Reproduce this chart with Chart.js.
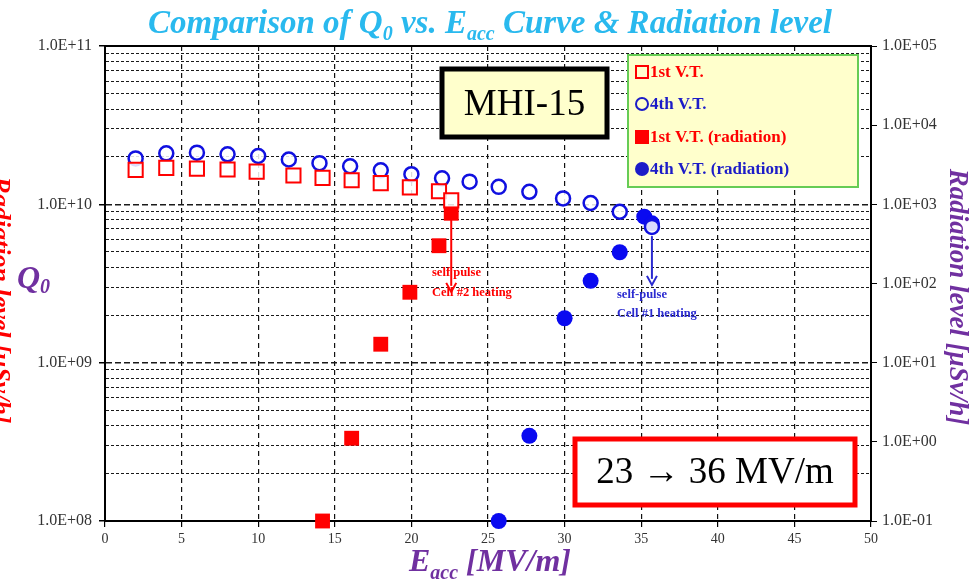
<!DOCTYPE html>
<html>
<head>
<meta charset="utf-8">
<script src="https://cdn.jsdelivr.net/npm/chart.js@4.4.1/dist/chart.umd.min.js"></script>
<style>
  html, body { margin: 0; padding: 0; background: #fff; }
  canvas { display: block; }
</style>
</head>
<body>
<canvas id="q0Chart" width="978" height="582"></canvas>
<script>
// --- datos ---
const eacc1st = [2, 4, 6, 8, 9.9, 12.3, 14.2, 16.1, 18, 19.9, 21.8, 22.6];
const q0First = [1.65e10, 1.70e10, 1.68e10, 1.66e10, 1.61e10, 1.52e10, 1.47e10, 1.42e10, 1.36e10, 1.28e10, 1.21e10, 1.06e10];

const eacc4th = [2, 4, 6, 8, 10, 12, 14, 16, 18, 20, 22, 23.8, 25.7, 27.7, 29.9, 31.7, 33.6, 35.7];
const q0Fourth = [1.95e10, 2.10e10, 2.12e10, 2.07e10, 2.02e10, 1.92e10, 1.82e10, 1.74e10, 1.64e10, 1.55e10, 1.46e10, 1.39e10, 1.29e10, 1.20e10, 1.09e10, 1.02e10, 8.98e9, 7.2e9];

const eaccRad1st = [14.2, 16.1, 18, 19.9, 21.8, 22.6];
const radFirst = [0.1, 1.11, 17.1, 77.5, 300, 771];

const eaccRad4th = [25.7, 27.7, 30, 31.7, 33.6, 35.2, 35.7];
const radFourth = [0.1, 1.19, 36.4, 108, 248, 698, 576];

const xTicks = [0, 5, 10, 15, 20, 25, 30, 35, 40, 45, 50];
const q0Decades = [1e8, 1e9, 1e10, 1e11];
const radDecades = [0.1, 1, 10, 100, 1000, 1e4, 1e5];

const seriesNames = ['1st V.T.', '4th V.T.', '1st V.T. (radiation)', '4th V.T. (radiation)'];

// flechas de anotación (Eacc, Q0 desde, Q0 hasta)
const redArrow = { x: 22.6, from: 9.0e9, to: 2.8e9 };
const blueArrow = { x: 35.7, from: 6.3e9, to: 3.1e9 };

const RED = '#ff0000';
const BLUE = '#0000ee';
const PURPLE = '#7030a0';
const SERIF = "'Liberation Serif', 'Times New Roman', serif";

const toPoints = (xs, ys) => xs.map((x, i) => ({ x, y: ys[i] }));

function expLabel(v) {
  const e = Math.round(Math.log10(v));
  const sign = e < 0 ? '-' : '+';
  return '1.0E' + sign + String(Math.abs(e)).padStart(2, '0');
}
const isDecade = v => Math.abs(Math.log10(v) - Math.round(Math.log10(v))) < 1e-9;

// ticks 1..9 x 10^n para la rejilla del eje izquierdo
const q0Ticks = [];
q0Decades.slice(0, -1).forEach(d => { for (let k = 1; k < 10; k++) q0Ticks.push(d * k); });
q0Ticks.push(q0Decades[q0Decades.length - 1]);

// texto con subíndices
function drawRich(ctx, parts, x, y, align) {
  let w = 0;
  parts.forEach(p => { ctx.font = p.font; w += ctx.measureText(p.t).width; });
  let cx = align === 'center' ? x - w / 2 : x;
  ctx.textAlign = 'left';
  parts.forEach(p => {
    ctx.font = p.font;
    ctx.fillText(p.t, cx, y + (p.dy || 0));
    cx += ctx.measureText(p.t).width;
  });
}

function arrow(ctx, x, y1, y2, color) {
  ctx.save();
  ctx.strokeStyle = color;
  ctx.fillStyle = color;
  ctx.lineWidth = 2;
  ctx.beginPath();
  ctx.moveTo(x, y1);
  ctx.lineTo(x, y2 - 6);
  ctx.stroke();
  ctx.beginPath();
  ctx.moveTo(x - 5, y2 - 9);
  ctx.lineTo(x, y2);
  ctx.lineTo(x + 5, y2 - 9);
  ctx.stroke();
  ctx.restore();
}

const decorPlugin = {
  id: 'decor',
  afterDraw(chart) {
    const { ctx, chartArea: a, scales } = chart;
    ctx.save();

    // marco superior
    ctx.strokeStyle = '#000';
    ctx.lineWidth = 2;
    ctx.beginPath();
    ctx.moveTo(a.left, a.top);
    ctx.lineTo(a.right, a.top);
    ctx.stroke();

    // título
    ctx.fillStyle = '#29b9ee';
    ctx.textBaseline = 'alphabetic';
    const big = `italic bold 33px ${SERIF}`;
    const sub = `italic bold 20px ${SERIF}`;
    drawRich(ctx, [
      { t: 'Comparison of Q', font: big },
      { t: '0', font: sub, dy: 7 },
      { t: ' vs. E', font: big },
      { t: 'acc', font: sub, dy: 7 },
      { t: ' Curve & Radiation level', font: big }
    ], 490, 33, 'center');

    // título eje x
    ctx.fillStyle = PURPLE;
    drawRich(ctx, [
      { t: 'E', font: `italic bold 32px ${SERIF}` },
      { t: 'acc', font: `italic bold 20px ${SERIF}`, dy: 8 },
      { t: ' [MV/m]', font: `italic bold 32px ${SERIF}` }
    ], 490, 571, 'center');

    // Q0 a la izquierda
    drawRich(ctx, [
      { t: 'Q', font: `italic bold 32px ${SERIF}` },
      { t: '0', font: `italic bold 20px ${SERIF}`, dy: 5 }
    ], 17, 288, 'left');

    // eje derecho
    ctx.save();
    ctx.translate(950, 297);
    ctx.rotate(Math.PI / 2);
    ctx.font = `italic bold 27px ${SERIF}`;
    ctx.textAlign = 'center';
    ctx.textBaseline = 'alphabetic';
    ctx.fillStyle = PURPLE;
    ctx.fillText('Radiation level [\u03bcSv/h]', 0, 0);
    ctx.restore();

    // título rojo recortado a la izquierda
    ctx.save();
    ctx.translate(-7, 300);
    ctx.rotate(Math.PI / 2);
    ctx.font = `italic bold 26px ${SERIF}`;
    ctx.textAlign = 'center';
    ctx.fillStyle = RED;
    ctx.fillText('Radiation level [\u03bcSv/h]', 0, 0);
    ctx.restore();

    // flechas y notas
    const xs = scales.x, ys = scales.y;
    const rx = xs.getPixelForValue(redArrow.x);
    arrow(ctx, rx, ys.getPixelForValue(redArrow.from), ys.getPixelForValue(redArrow.to), RED);
    const bx = xs.getPixelForValue(blueArrow.x);
    arrow(ctx, bx, ys.getPixelForValue(blueArrow.from), ys.getPixelForValue(blueArrow.to), '#2a2ad0');

    ctx.font = `bold 12.5px ${SERIF}`;
    ctx.textAlign = 'left';
    ctx.fillStyle = RED;
    ctx.fillText('self pulse', 432, 276);
    ctx.fillText('Cell #2 heating', 432, 296);
    ctx.fillStyle = '#2a2ad0';
    ctx.fillText('self-pulse', 617, 298);
    ctx.fillText('Cell #1 heating', 617, 317);

    // caja MHI-15
    ctx.fillStyle = '#ffffcc';
    ctx.fillRect(442, 69, 165, 68);
    ctx.lineWidth = 5;
    ctx.strokeStyle = '#000';
    ctx.strokeRect(442, 69, 165, 68);
    ctx.fillStyle = '#000';
    ctx.font = `37px ${SERIF}`;
    ctx.textAlign = 'center';
    ctx.textBaseline = 'middle';
    ctx.fillText('MHI-15', 524.5, 105);

    // caja 23 -> 36 MV/m
    ctx.fillStyle = '#fff';
    ctx.fillRect(575, 439, 280, 66);
    ctx.strokeStyle = RED;
    ctx.lineWidth = 5;
    ctx.strokeRect(575, 439, 280, 66);
    ctx.fillStyle = '#000';
    ctx.font = `37px ${SERIF}`;
    ctx.fillText('23 \u2192 36 MV/m', 715, 473);

    // leyenda
    ctx.fillStyle = '#ffffcc';
    ctx.fillRect(628, 55, 230, 132);
    ctx.strokeStyle = '#66cc55';
    ctx.lineWidth = 2;
    ctx.strokeRect(628, 55, 230, 132);
    const rows = [
      { name: seriesNames[0], color: RED, shape: 'sq', fill: false, y: 72 },
      { name: seriesNames[1], color: '#1c1cc8', shape: 'ci', fill: false, y: 104 },
      { name: seriesNames[2], color: RED, shape: 'sq', fill: true, y: 137 },
      { name: seriesNames[3], color: '#1c1cc8', shape: 'ci', fill: true, y: 169 }
    ];
    rows.forEach(r => {
      ctx.strokeStyle = r.color;
      ctx.fillStyle = r.color;
      ctx.lineWidth = 2;
      if (r.shape === 'sq') {
        if (r.fill) ctx.fillRect(635, r.y - 7, 14, 14);
        else ctx.strokeRect(636, r.y - 6, 12, 12);
      } else {
        ctx.beginPath();
        ctx.arc(642, r.y, r.fill ? 7 : 6, 0, Math.PI * 2);
        if (r.fill) ctx.fill(); else ctx.stroke();
      }
      ctx.font = `bold 17px ${SERIF}`;
      ctx.textAlign = 'left';
      ctx.textBaseline = 'middle';
      ctx.fillText(r.name, 650, r.y + 1);
    });

    ctx.restore();
  }
};

new Chart(document.getElementById('q0Chart').getContext('2d'), {
  type: 'scatter',
  data: {
    datasets: [
      { label: seriesNames[0], data: toPoints(eacc1st, q0First), yAxisID: 'y', pointStyle: 'rect', pointRadius: 10, pointBorderWidth: 2, borderColor: RED, backgroundColor: 'rgba(255,255,255,0.85)', clip: false },
      { label: seriesNames[1], data: toPoints(eacc4th, q0Fourth), yAxisID: 'y', pointStyle: 'circle', pointRadius: 7, pointBorderWidth: 2.5, borderColor: '#1010e0', backgroundColor: 'rgba(255,255,255,0.85)', clip: false },
      { label: seriesNames[2], data: toPoints(eaccRad1st, radFirst), yAxisID: 'y2', pointStyle: 'rect', pointRadius: 10.5, pointBorderWidth: 0, borderColor: RED, backgroundColor: RED, clip: false },
      { label: seriesNames[3], data: toPoints(eaccRad4th, radFourth), yAxisID: 'y2', pointStyle: 'circle', pointRadius: 8, pointBorderWidth: 0, borderColor: '#0a0af0', backgroundColor: '#0a0af0', clip: false }
    ]
  },
  options: {
    responsive: false,
    devicePixelRatio: 1,
    animation: false,
    layout: { padding: { top: 46, left: 0, right: 0, bottom: 0 } },
    plugins: {
      legend: { display: false },
      tooltip: { enabled: false }
    },
    scales: {
      x: {
        type: 'linear',
        min: 0,
        max: 50,
        afterBuildTicks: s => { s.ticks = xTicks.map(v => ({ value: v })); },
        afterFit: s => { s.height = 61; },
        ticks: { color: '#333', font: { family: SERIF, size: 14 }, padding: 4, maxRotation: 0 },
        grid: { color: '#111', lineWidth: 1.2, tickLength: 6, tickColor: '#000' },
        border: { display: true, color: '#000', width: 2, dash: [5, 4] }
      },
      y: {
        type: 'logarithmic',
        position: 'left',
        min: 1e8,
        max: 1e11,
        afterBuildTicks: s => { s.ticks = q0Ticks.map(v => ({ value: v })); },
        afterFit: s => { s.width = 105; },
        ticks: {
          autoSkip: false,
          color: '#333',
          font: { family: SERIF, size: 16 },
          padding: 7,
          callback: v => (isDecade(v) ? expLabel(v) : '')
        },
        grid: {
          color: '#1a1a1a',
          lineWidth: c => (c.tick && isDecade(c.tick.value) ? 1.5 : 1),
          tickLength: 6,
          tickColor: c => (c.tick && isDecade(c.tick.value) ? '#000' : 'rgba(0,0,0,0)')
        },
        border: {
          display: true,
          color: '#000',
          width: 2,
          dash: c => (c.tick && isDecade(c.tick.value) ? [6, 3] : [3, 2])
        }
      },
      y2: {
        type: 'logarithmic',
        position: 'right',
        min: 0.1,
        max: 1e5,
        afterBuildTicks: s => { s.ticks = radDecades.map(v => ({ value: v })); },
        afterFit: s => { s.width = 107; },
        ticks: {
          autoSkip: false,
          color: '#333',
          font: { family: SERIF, size: 16 },
          padding: 5,
          callback: v => expLabel(v)
        },
        grid: { drawOnChartArea: false, tickLength: 6, tickColor: '#000' },
        border: { display: true, color: '#000', width: 2 }
      }
    }
  },
  plugins: [decorPlugin]
});
</script>
</body>
</html>
